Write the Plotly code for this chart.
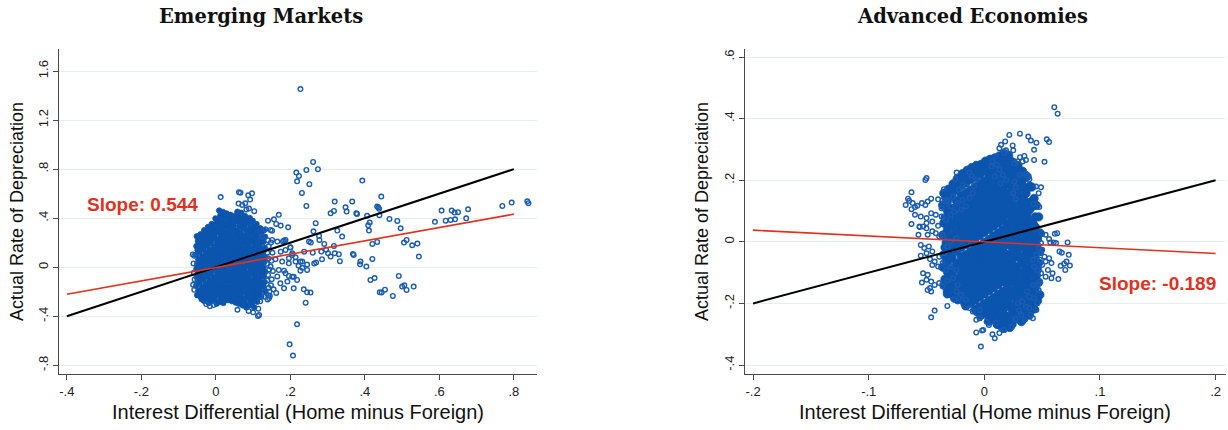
import plotly.graph_objects as go

# ---------------- Emerging Markets data ----------------
# dense central cloud (overlapping markers render as a solid blob)
em_core = [
(-0.051,0.252),(-0.048,0.214),(-0.052,0.172),(-0.049,0.138),(-0.053,0.101),(-0.047,0.063),(-0.050,0.027),(-0.052,-0.012),(-0.048,-0.043),(-0.051,-0.082),(-0.049,-0.113),(-0.053,-0.151),(-0.047,-0.192),(-0.050,-0.228),
(-0.041,0.268),(-0.038,0.231),(-0.042,0.196),(-0.039,0.158),(-0.043,0.127),(-0.037,0.087),(-0.040,0.052),(-0.042,0.016),(-0.038,-0.021),(-0.041,-0.054),(-0.039,-0.092),(-0.043,-0.124),(-0.037,-0.163),(-0.040,-0.198),(-0.042,-0.237),(-0.038,-0.262),
(-0.031,0.302),(-0.028,0.262),(-0.032,0.224),(-0.029,0.188),(-0.033,0.153),(-0.027,0.117),(-0.030,0.081),(-0.032,0.043),(-0.028,0.008),(-0.031,-0.028),(-0.029,-0.063),(-0.033,-0.098),(-0.027,-0.134),(-0.030,-0.171),(-0.032,-0.207),(-0.028,-0.243),(-0.031,-0.276),
(-0.021,0.328),(-0.018,0.287),(-0.022,0.251),(-0.019,0.213),(-0.023,0.178),(-0.017,0.141),(-0.020,0.104),(-0.022,0.068),(-0.018,0.031),(-0.021,-0.003),(-0.019,-0.041),(-0.023,-0.072),(-0.017,-0.109),(-0.020,-0.147),(-0.022,-0.183),(-0.018,-0.218),(-0.021,-0.257),(-0.019,-0.292),
(-0.011,0.352),(-0.008,0.312),(-0.012,0.273),(-0.009,0.234),(-0.013,0.197),(-0.007,0.158),(-0.010,0.121),(-0.012,0.087),(-0.008,0.049),(-0.011,0.016),(-0.009,-0.022),(-0.013,-0.054),(-0.007,-0.091),(-0.010,-0.128),(-0.012,-0.163),(-0.008,-0.201),(-0.011,-0.238),(-0.009,-0.272),
(-0.001,0.398),(0.002,0.361),(-0.002,0.322),(0.001,0.284),(-0.003,0.248),(0.003,0.209),(0.000,0.172),(-0.002,0.138),(0.002,0.101),(-0.001,0.063),(0.001,0.027),(-0.003,-0.009),(0.003,-0.043),(0.000,-0.081),(-0.002,-0.118),(0.002,-0.152),(-0.001,-0.189),(0.001,-0.228),(-0.003,-0.262),(0.002,-0.297),
(0.009,0.462),(0.012,0.421),(0.008,0.383),(0.011,0.342),(0.007,0.307),(0.013,0.268),(0.010,0.231),(0.008,0.193),(0.012,0.158),(0.009,0.119),(0.011,0.083),(0.007,0.047),(0.013,0.012),(0.010,-0.026),(0.008,-0.061),(0.012,-0.097),(0.009,-0.136),(0.011,-0.171),(0.007,-0.208),(0.013,-0.246),(0.010,-0.283),
(0.019,0.451),(0.022,0.412),(0.018,0.372),(0.021,0.333),(0.017,0.293),(0.023,0.258),(0.020,0.219),(0.018,0.182),(0.022,0.147),(0.019,0.108),(0.021,0.072),(0.017,0.036),(0.023,-0.002),(0.020,-0.037),(0.018,-0.072),(0.022,-0.109),(0.019,-0.148),(0.021,-0.183),(0.017,-0.221),(0.023,-0.257),(0.020,-0.292),
(0.029,0.438),(0.032,0.397),(0.028,0.358),(0.031,0.321),(0.027,0.282),(0.033,0.246),(0.030,0.207),(0.028,0.171),(0.032,0.133),(0.029,0.097),(0.031,0.058),(0.027,0.021),(0.033,-0.013),(0.030,-0.051),(0.028,-0.087),(0.032,-0.122),(0.029,-0.161),(0.031,-0.197),(0.027,-0.233),(0.033,-0.268),
(0.039,0.427),(0.042,0.388),(0.038,0.349),(0.041,0.311),(0.037,0.272),(0.043,0.236),(0.040,0.197),(0.038,0.161),(0.042,0.122),(0.039,0.087),(0.041,0.048),(0.037,0.012),(0.043,-0.024),(0.040,-0.061),(0.038,-0.098),(0.042,-0.131),(0.039,-0.171),(0.041,-0.207),(0.037,-0.242),(0.043,-0.276),
(0.049,0.418),(0.052,0.379),(0.048,0.341),(0.051,0.302),(0.047,0.263),(0.053,0.224),(0.050,0.188),(0.048,0.149),(0.052,0.112),(0.049,0.077),(0.051,0.038),(0.047,0.002),(0.053,-0.033),(0.050,-0.071),(0.048,-0.108),(0.052,-0.142),(0.049,-0.181),(0.051,-0.219),(0.047,-0.251),(0.053,-0.288),
(0.058,0.452),(0.062,0.412),(0.059,0.373),(0.063,0.332),(0.057,0.293),(0.060,0.254),(0.062,0.213),(0.058,0.178),(0.061,0.141),(0.059,0.102),(0.063,0.068),(0.057,0.029),(0.060,-0.008),(0.062,-0.043),(0.058,-0.081),(0.061,-0.118),(0.059,-0.152),(0.063,-0.191),(0.057,-0.227),(0.060,-0.262),(0.062,-0.298),
(0.068,0.443),(0.072,0.402),(0.069,0.363),(0.073,0.322),(0.067,0.284),(0.070,0.243),(0.072,0.204),(0.068,0.168),(0.071,0.131),(0.069,0.092),(0.073,0.058),(0.067,0.019),(0.070,-0.018),(0.072,-0.053),(0.068,-0.091),(0.071,-0.128),(0.069,-0.163),(0.073,-0.201),(0.067,-0.238),(0.070,-0.272),(0.072,-0.311),
(0.078,0.418),(0.081,0.378),(0.077,0.338),(0.083,0.298),(0.080,0.261),(0.078,0.228),(0.082,0.189),(0.079,0.151),(0.081,0.117),(0.077,0.078),(0.083,0.041),(0.080,0.006),(0.078,-0.031),(0.082,-0.068),(0.079,-0.104),(0.081,-0.141),(0.077,-0.178),(0.083,-0.213),(0.080,-0.251),(0.078,-0.288),(0.082,-0.328),
(0.091,0.401),(0.088,0.362),(0.092,0.321),(0.089,0.282),(0.087,0.243),(0.091,0.208),(0.088,0.171),(0.092,0.133),(0.089,0.097),(0.091,0.061),(0.087,0.022),(0.093,-0.013),(0.090,-0.051),(0.088,-0.088),(0.092,-0.123),(0.089,-0.161),(0.091,-0.198),(0.087,-0.232),(0.093,-0.271),(0.090,-0.309),
(0.099,0.378),(0.102,0.338),(0.098,0.302),(0.101,0.262),(0.097,0.223),(0.103,0.188),(0.100,0.151),(0.098,0.112),(0.102,0.078),(0.099,0.041),(0.101,0.003),(0.097,-0.033),(0.103,-0.071),(0.100,-0.108),(0.098,-0.142),(0.102,-0.181),(0.099,-0.218),(0.101,-0.252),(0.097,-0.291),(0.103,-0.328),
(0.109,0.352),(0.112,0.311),(0.108,0.272),(0.111,0.233),(0.107,0.198),(0.113,0.161),(0.110,0.121),(0.108,0.087),(0.112,0.048),(0.109,0.012),(0.111,-0.023),(0.107,-0.061),(0.113,-0.098),(0.110,-0.133),(0.108,-0.171),(0.112,-0.208),(0.109,-0.243),(0.111,-0.281),
(0.119,0.318),(0.122,0.281),(0.118,0.243),(0.121,0.202),(0.117,0.168),(0.123,0.131),(0.120,0.092),(0.118,0.058),(0.122,0.021),(0.119,-0.018),(0.121,-0.053),(0.117,-0.091),(0.123,-0.127),(0.120,-0.162),(0.118,-0.201),(0.122,-0.238),
(0.129,0.301),(0.132,0.248),(0.128,0.207),(0.131,0.158),(0.127,0.121),(0.133,0.081),(0.130,0.042),(0.128,0.003),(0.132,-0.038),(0.129,-0.078),(0.131,-0.121),(0.127,-0.158),(0.133,-0.198),
]

# sparser points around and outside the cloud
em_outliers = [
(-0.062,0.104),(-0.058,0.093),(-0.060,0.031),(-0.059,-0.046),(-0.057,-0.101),(-0.061,-0.143),(-0.058,-0.184),
(-0.026,-0.301),(-0.016,-0.318),(-0.006,-0.309),(0.058,-0.347),(0.088,-0.357),(0.100,-0.368),(0.114,-0.338),(0.116,-0.389),(0.113,-0.397),
(0.013,0.572),(0.062,0.611),(0.066,0.607),(0.061,0.519),(0.071,0.508),(0.079,0.521),(0.082,0.471),(0.087,0.587),(0.092,0.552),(0.089,0.478),(0.097,0.603),(0.103,0.457),
(0.139,0.221),(0.142,0.171),(0.138,0.118),(0.141,0.072),(0.137,0.028),(0.143,-0.018),(0.140,-0.063),(0.138,-0.108),(0.142,-0.168),(0.144,-0.198),(0.141,-0.228),(0.143,-0.252),(0.139,-0.263),(0.130,-0.241),(0.119,-0.278),
(0.151,0.298),(0.148,0.202),(0.152,0.118),(0.149,0.052),(0.153,-0.031),(0.150,-0.098),(0.148,-0.148),
(0.227,1.453),(0.261,0.859),(0.243,0.794),(0.274,0.800),(0.216,0.772),(0.223,0.745),(0.218,0.701),(0.251,0.677),(0.231,0.606),(0.243,0.500),(0.393,0.707),
(0.444,0.576),(0.433,0.495),(0.436,0.487),(0.438,0.476),(0.439,0.424),(0.466,0.394),(0.487,0.378),(0.496,0.318),(0.505,0.201),(0.512,0.223),(0.527,0.179),(0.541,0.193),(0.545,0.087),
(0.415,-0.104),(0.426,-0.088),(0.440,-0.205),(0.445,-0.207),(0.454,-0.183),(0.475,-0.234),(0.491,-0.071),(0.500,-0.158),(0.506,-0.147),(0.512,-0.185),(0.531,-0.158),
(0.588,0.370),(0.606,0.462),(0.617,0.380),(0.630,0.386),(0.633,0.462),(0.641,0.446),(0.650,0.449),(0.642,0.391),(0.672,0.399),(0.677,0.473),(0.769,0.500),(0.794,0.527),(0.836,0.538),(0.839,0.522),
(0.301,0.114),(0.308,0.087),(0.317,0.174),(0.319,0.114),(0.330,0.106),(0.333,0.049),(0.339,0.250),(0.326,0.299),(0.308,0.440),(0.317,0.459),(0.319,0.536),(0.348,0.489),(0.351,0.454),(0.366,0.536),(0.377,0.440),(0.379,0.435),(0.406,0.419),(0.409,0.342),(0.413,0.364),(0.411,0.299),(0.420,0.190),(0.420,0.068),(0.433,0.206),(0.388,0.046),(0.387,0.024),(0.404,0.005),(0.368,0.108),(0.370,0.100),
(0.262,0.293),(0.268,0.359),(0.277,0.255),(0.278,0.223),(0.291,0.190),(0.260,0.119),(0.237,0.127),(0.269,0.038),(0.245,-0.022),(0.250,0.209),(0.255,0.201),(0.194,0.326),(0.174,0.340),(0.169,0.427),(0.180,0.209),(0.187,0.223),(0.200,0.160),(0.205,0.114),(0.227,0.046),(0.214,0.046),(0.196,0.032),(0.178,0.046),(0.187,-0.050),(0.205,-0.077),(0.218,-0.104),(0.173,-0.131),(0.183,-0.172),(0.209,-0.172),(0.192,-0.117),(0.236,-0.180),(0.245,-0.205),(0.254,-0.207),(0.241,-0.289),
(0.218,-0.465),(0.198,-0.629),(0.207,-0.721),
(0.140,0.380),(0.156,0.391),(0.162,0.353),(0.133,0.310),(0.147,0.304),(0.124,0.250),(0.151,0.223),(0.165,0.209),(0.183,0.217),(0.187,0.141),(0.200,0.163),(0.205,0.100),(0.214,0.081),(0.174,0.127),(0.160,0.065),(0.147,0.005),(0.169,-0.022),(0.183,-0.028),(0.196,-0.071),(0.209,-0.077),(0.227,-0.028),(0.245,0.022),(0.232,0.046),
(0.264,0.030),(0.285,0.066),(0.232,-0.005),(0.222,0.012),(0.196,0.073),(0.165,-0.075),(0.155,-0.180),(0.162,-0.210),(0.145,-0.235),(0.283,0.128),(0.296,0.142),
]

em_diag_x = [-0.4, 0.8]
em_diag_y = [-0.4, 0.8]
em_fit_x = [-0.4, 0.8]
em_fit_y = [-0.220, 0.433]
em_xticks = [-0.4, -0.2, 0, 0.2, 0.4, 0.6, 0.8]
em_xlabels = ["-.4", "-.2", "0", ".2", ".4", ".6", ".8"]
em_yticks = [-0.8, -0.4, 0, 0.4, 0.8, 1.2, 1.6]
em_ylabels = ["-.8", "-.4", "0", ".4", ".8", "1.2", "1.6"]

# ---------------- Advanced Economies data ----------------
ae_core = [
(-0.035,0.158),(-0.033,0.141),(-0.036,0.119),(-0.032,0.102),(-0.034,0.078),(-0.035,0.061),(-0.032,0.039),(-0.036,0.022),(-0.033,-0.003),(-0.034,-0.018),(-0.035,-0.041),(-0.033,-0.059),(-0.036,-0.082),(-0.032,-0.097),(-0.034,-0.121),(-0.035,-0.139),(-0.032,-0.158),
(-0.031,0.171),(-0.029,0.149),(-0.032,0.131),(-0.028,0.108),(-0.030,0.092),(-0.031,0.069),(-0.028,0.052),(-0.032,0.028),(-0.029,0.011),(-0.030,-0.012),(-0.031,-0.029),(-0.029,-0.051),(-0.032,-0.068),(-0.028,-0.091),(-0.030,-0.108),(-0.031,-0.131),(-0.028,-0.148),(-0.032,-0.169),
(-0.027,0.188),(-0.025,0.172),(-0.028,0.148),(-0.024,0.132),(-0.026,0.109),(-0.027,0.091),(-0.024,0.068),(-0.028,0.052),(-0.025,0.029),(-0.026,0.012),(-0.027,-0.011),(-0.025,-0.028),(-0.028,-0.052),(-0.024,-0.069),(-0.026,-0.088),(-0.027,-0.112),(-0.024,-0.129),(-0.028,-0.151),(-0.025,-0.168),(-0.026,-0.182),
(-0.023,0.207),(-0.021,0.189),(-0.024,0.168),(-0.020,0.151),(-0.022,0.128),(-0.023,0.112),(-0.020,0.089),(-0.024,0.071),(-0.021,0.048),(-0.022,0.032),(-0.023,0.009),(-0.021,-0.008),(-0.024,-0.031),(-0.020,-0.048),(-0.022,-0.072),(-0.023,-0.089),(-0.020,-0.108),(-0.024,-0.131),(-0.021,-0.149),(-0.022,-0.171),(-0.023,-0.188),
(-0.019,0.221),(-0.017,0.198),(-0.020,0.182),(-0.016,0.158),(-0.018,0.141),(-0.019,0.118),(-0.016,0.102),(-0.020,0.079),(-0.017,0.061),(-0.018,0.038),(-0.019,0.022),(-0.017,-0.001),(-0.020,-0.018),(-0.016,-0.042),(-0.018,-0.058),(-0.019,-0.081),(-0.016,-0.098),(-0.020,-0.122),(-0.017,-0.139),(-0.018,-0.161),(-0.019,-0.178),(-0.017,-0.199),
(-0.015,0.232),(-0.013,0.209),(-0.016,0.191),(-0.012,0.168),(-0.014,0.152),(-0.015,0.129),(-0.012,0.111),(-0.016,0.088),(-0.013,0.072),(-0.014,0.049),(-0.015,0.031),(-0.013,0.008),(-0.016,-0.009),(-0.012,-0.032),(-0.014,-0.049),(-0.015,-0.071),(-0.012,-0.089),(-0.016,-0.112),(-0.013,-0.128),(-0.014,-0.151),(-0.015,-0.169),(-0.013,-0.191),(-0.016,-0.208),
(-0.011,0.241),(-0.009,0.219),(-0.012,0.202),(-0.008,0.178),(-0.010,0.161),(-0.011,0.138),(-0.008,0.122),(-0.012,0.099),(-0.009,0.081),(-0.010,0.058),(-0.011,0.041),(-0.009,0.018),(-0.012,0.001),(-0.008,-0.022),(-0.010,-0.039),(-0.011,-0.062),(-0.008,-0.079),(-0.012,-0.101),(-0.009,-0.119),(-0.010,-0.141),(-0.011,-0.158),(-0.009,-0.181),(-0.012,-0.199),(-0.008,-0.219),
(-0.007,0.248),(-0.005,0.229),(-0.008,0.211),(-0.004,0.189),(-0.006,0.171),(-0.007,0.148),(-0.004,0.131),(-0.008,0.109),(-0.005,0.091),(-0.006,0.068),(-0.007,0.051),(-0.005,0.029),(-0.008,0.011),(-0.004,-0.012),(-0.006,-0.029),(-0.007,-0.052),(-0.004,-0.069),(-0.008,-0.091),(-0.005,-0.109),(-0.006,-0.131),(-0.007,-0.149),(-0.005,-0.171),(-0.008,-0.189),(-0.004,-0.211),(-0.006,-0.228),
(-0.003,0.251),(-0.001,0.238),(-0.004,0.219),(0.000,0.198),(-0.002,0.181),(-0.003,0.159),(0.000,0.141),(-0.004,0.118),(-0.001,0.101),(-0.002,0.079),(-0.003,0.061),(-0.001,0.038),(-0.004,0.021),(0.000,-0.002),(-0.002,-0.019),(-0.003,-0.041),(0.000,-0.059),(-0.004,-0.081),(-0.001,-0.099),(-0.002,-0.121),(-0.003,-0.139),(-0.001,-0.161),(-0.004,-0.179),(0.000,-0.201),(-0.002,-0.219),(-0.003,-0.238),
(0.001,0.262),(0.003,0.241),(0.000,0.229),(0.004,0.208),(0.002,0.189),(0.001,0.168),(0.004,0.151),(0.000,0.129),(0.003,0.111),(0.002,0.088),(0.001,0.071),(0.003,0.049),(0.000,0.031),(0.004,0.008),(0.002,-0.009),(0.001,-0.031),(0.004,-0.049),(0.000,-0.072),(0.003,-0.089),(0.002,-0.111),(0.001,-0.129),(0.003,-0.151),(0.000,-0.169),(0.004,-0.191),(0.002,-0.209),(0.001,-0.229),(0.004,-0.248),
(0.005,0.268),(0.007,0.249),(0.004,0.231),(0.008,0.218),(0.006,0.198),(0.005,0.178),(0.008,0.161),(0.004,0.139),(0.007,0.121),(0.006,0.099),(0.005,0.081),(0.007,0.058),(0.004,0.041),(0.008,0.019),(0.006,0.001),(0.005,-0.021),(0.008,-0.039),(0.004,-0.061),(0.007,-0.079),(0.006,-0.101),(0.005,-0.119),(0.007,-0.141),(0.004,-0.159),(0.008,-0.181),(0.006,-0.199),(0.005,-0.221),(0.008,-0.239),(0.004,-0.258),
(0.009,0.272),(0.011,0.258),(0.008,0.239),(0.012,0.221),(0.010,0.208),(0.009,0.188),(0.012,0.171),(0.008,0.148),(0.011,0.131),(0.010,0.109),(0.009,0.091),(0.011,0.068),(0.008,0.051),(0.012,0.029),(0.010,0.011),(0.009,-0.011),(0.012,-0.029),(0.008,-0.051),(0.011,-0.069),(0.010,-0.091),(0.009,-0.109),(0.011,-0.131),(0.008,-0.149),(0.012,-0.171),(0.010,-0.189),(0.009,-0.211),(0.012,-0.229),(0.008,-0.251),(0.011,-0.268),
(0.013,0.279),(0.015,0.261),(0.012,0.249),(0.016,0.229),(0.014,0.211),(0.013,0.198),(0.016,0.178),(0.012,0.159),(0.015,0.141),(0.014,0.119),(0.013,0.101),(0.015,0.079),(0.012,0.061),(0.016,0.039),(0.014,0.021),(0.013,-0.001),(0.016,-0.019),(0.012,-0.041),(0.015,-0.059),(0.014,-0.081),(0.013,-0.099),(0.015,-0.121),(0.012,-0.139),(0.016,-0.161),(0.014,-0.179),(0.013,-0.201),(0.016,-0.219),(0.012,-0.241),(0.015,-0.259),(0.014,-0.272),
(0.017,0.288),(0.019,0.271),(0.016,0.252),(0.020,0.238),(0.018,0.219),(0.017,0.201),(0.020,0.188),(0.016,0.168),(0.019,0.149),(0.018,0.131),(0.017,0.109),(0.019,0.091),(0.016,0.069),(0.020,0.051),(0.018,0.029),(0.017,0.011),(0.020,-0.009),(0.016,-0.031),(0.019,-0.049),(0.018,-0.071),(0.017,-0.089),(0.019,-0.111),(0.016,-0.129),(0.020,-0.151),(0.018,-0.169),(0.017,-0.191),(0.020,-0.209),(0.016,-0.231),(0.019,-0.249),(0.018,-0.268),(0.017,-0.281),
(0.021,0.281),(0.023,0.262),(0.020,0.241),(0.024,0.228),(0.022,0.209),(0.021,0.191),(0.024,0.178),(0.020,0.158),(0.023,0.139),(0.022,0.121),(0.021,0.099),(0.023,0.081),(0.020,0.059),(0.024,0.041),(0.022,0.019),(0.021,0.001),(0.024,-0.019),(0.020,-0.041),(0.023,-0.059),(0.022,-0.081),(0.021,-0.099),(0.023,-0.121),(0.020,-0.139),(0.024,-0.161),(0.022,-0.179),(0.021,-0.201),(0.024,-0.219),(0.020,-0.241),(0.023,-0.259),(0.022,-0.278),
(0.025,0.258),(0.027,0.239),(0.024,0.218),(0.028,0.201),(0.026,0.188),(0.025,0.168),(0.028,0.149),(0.024,0.129),(0.027,0.111),(0.026,0.089),(0.025,0.071),(0.027,0.049),(0.024,0.031),(0.028,0.009),(0.026,-0.009),(0.025,-0.031),(0.028,-0.049),(0.024,-0.071),(0.027,-0.089),(0.026,-0.111),(0.025,-0.129),(0.027,-0.151),(0.024,-0.169),(0.028,-0.191),(0.026,-0.209),(0.025,-0.231),(0.028,-0.249),(0.024,-0.268),
(0.029,0.248),(0.031,0.231),(0.028,0.209),(0.032,0.191),(0.030,0.171),(0.029,0.151),(0.032,0.138),(0.028,0.119),(0.031,0.101),(0.030,0.079),(0.029,0.061),(0.031,0.039),(0.028,0.021),(0.032,-0.001),(0.030,-0.019),(0.029,-0.041),(0.032,-0.059),(0.028,-0.081),(0.031,-0.099),(0.030,-0.121),(0.029,-0.139),(0.031,-0.161),(0.028,-0.179),(0.032,-0.201),(0.030,-0.219),(0.029,-0.241),(0.032,-0.259),
(0.033,0.229),(0.035,0.208),(0.032,0.188),(0.036,0.168),(0.034,0.141),(0.033,0.121),(0.036,0.109),(0.032,0.089),(0.035,0.071),(0.034,0.049),(0.033,0.031),(0.035,0.009),(0.032,-0.009),(0.036,-0.031),(0.034,-0.049),(0.033,-0.071),(0.036,-0.089),(0.032,-0.111),(0.035,-0.129),(0.034,-0.151),(0.033,-0.169),(0.035,-0.191),(0.032,-0.209),(0.036,-0.231),(0.034,-0.249),
(0.037,0.212),(0.039,0.181),(0.036,0.158),(0.040,0.129),(0.038,0.099),(0.037,0.078),(0.040,0.059),(0.036,0.041),(0.039,0.019),(0.038,0.001),(0.037,-0.019),(0.039,-0.041),(0.036,-0.059),(0.040,-0.081),(0.038,-0.099),(0.037,-0.121),(0.040,-0.139),(0.036,-0.161),(0.039,-0.179),(0.038,-0.201),(0.037,-0.219),(0.039,-0.238),
(0.041,0.178),(0.043,0.141),(0.040,0.109),(0.044,0.081),(0.042,0.061),(0.041,0.039),(0.044,0.021),(0.040,-0.001),(0.043,-0.021),(0.042,-0.039),(0.041,-0.061),(0.043,-0.079),(0.040,-0.101),(0.044,-0.119),(0.042,-0.141),(0.041,-0.159),(0.044,-0.181),(0.040,-0.199),(0.043,-0.218),
(0.045,0.118),(0.047,0.081),(0.044,0.049),(0.048,0.029),(0.046,0.011),(0.045,-0.009),(0.048,-0.029),(0.044,-0.051),(0.047,-0.069),(0.046,-0.091),(0.045,-0.109),(0.047,-0.131),(0.044,-0.151),(0.048,-0.172),(0.046,-0.191),
]

ae_outliers = [
(-0.050,0.207),(-0.051,0.201),(-0.063,0.161),(-0.066,0.140),(-0.068,0.120),(-0.062,0.126),(-0.065,0.133),(-0.060,0.113),(-0.063,0.106),(-0.058,0.117),(-0.054,0.126),(-0.051,0.120),(-0.049,0.131),(-0.046,0.140),(-0.060,0.088),
(-0.040,0.138),(-0.036,0.136),(-0.033,0.131),(-0.037,0.109),(-0.035,0.171),(-0.024,0.225),(-0.025,0.203),(-0.013,0.225),(-0.011,0.214),
(-0.055,0.082),(-0.050,0.077),(-0.046,0.093),(-0.042,0.088),(-0.037,0.082),(-0.033,0.071),(-0.029,0.088),(-0.045,0.066),(-0.050,0.061),(-0.056,0.050),(-0.040,0.052),
(-0.032,0.136),(-0.027,0.147),(-0.022,0.169),(-0.019,0.185),(-0.016,0.180),(-0.029,0.115),(-0.023,0.126),(-0.019,0.136),(-0.026,0.098),(-0.020,0.104),(-0.016,0.115),(-0.013,0.142),(-0.010,0.158),(-0.009,0.180),(-0.007,0.201),
(-0.063,0.058),(-0.056,0.048),(-0.053,0.050),(-0.050,0.044),(-0.057,0.023),(-0.049,0.023),(-0.045,0.034),(-0.042,0.028),(-0.039,0.017),(-0.036,0.023),
(-0.055,-0.010),(-0.052,-0.020),(-0.048,-0.015),(-0.045,-0.031),(-0.050,-0.037),(-0.055,-0.045),(-0.047,-0.056),(-0.043,-0.064),(-0.039,-0.048),(-0.035,-0.037),(-0.032,-0.015),(-0.029,0.001),(-0.024,0.012),
(-0.045,-0.075),(-0.040,-0.080),(-0.036,-0.069),(-0.033,-0.091),(-0.029,-0.080),(-0.024,-0.091),
(-0.053,-0.102),(-0.049,-0.107),(-0.054,-0.132),(-0.050,-0.123),(-0.046,-0.129),(-0.043,-0.140),(-0.039,-0.134),(-0.036,-0.145),(-0.047,-0.150),(-0.032,-0.126),(-0.027,-0.118),(-0.023,-0.140),
(-0.049,-0.156),(-0.046,-0.161),(-0.024,-0.161),(-0.020,-0.172),(-0.022,-0.183),(-0.026,-0.188),(-0.016,-0.188),
(-0.043,-0.223),(-0.046,-0.245),(-0.032,-0.208),(-0.013,-0.215),(-0.010,-0.226),(-0.004,-0.221),(-0.004,-0.248),(-0.007,-0.253),(-0.001,-0.286),(-0.007,-0.294),(-0.003,-0.340),(0.002,-0.259),
(0.0605,0.437),(0.0634,0.416),(0.0216,0.347),(0.0308,0.351),(0.038,0.342),(0.0403,0.329),(0.045,0.322),(0.054,0.333),(0.056,0.324),(0.018,0.326),(0.0144,0.315),(0.0245,0.313),(0.025,0.297),(0.0187,0.297),(0.013,0.304),(0.0173,0.288),
(0.043,0.299),(0.043,0.266),(0.052,0.260),(0.0346,0.279),(0.0308,0.275),(0.0288,0.261),(0.0331,0.261),(0.036,0.266),(0.026,0.255),(0.0375,0.214),(0.0308,0.217),(0.036,0.221),(0.039,0.203),(0.0447,0.180),(0.049,0.177),(0.047,0.158),(0.0426,0.123),(0.0475,0.113),
(0.026,0.196),(0.027,0.177),(0.025,0.158),(0.027,0.138),(0.010,0.277),(0.007,0.261),(0.006,0.245),(0.011,0.250),(0.013,0.234),(0.016,0.217),(0.009,0.212),(0.019,0.201),(0.014,0.190),
(0.072,-0.002),(0.067,-0.035),(0.073,-0.042),(0.071,-0.064),(0.069,-0.071),(0.074,-0.077),(0.070,-0.091),(0.064,-0.121),(0.066,-0.078),(0.065,-0.031),(0.060,-0.002),(0.062,-0.004),(0.056,0.009),(0.057,-0.002),(0.053,0.023),(0.050,0.026),(0.061,0.026),(0.063,0.028),(0.049,-0.004),
(0.050,-0.026),(0.049,-0.037),(0.052,-0.048),(0.048,-0.058),(0.050,-0.075),(0.046,-0.091),(0.049,-0.102),(0.043,-0.080),(0.045,-0.042),(0.042,-0.058),(0.047,-0.021),
(0.048,-0.129),(0.047,-0.156),(0.047,-0.137),(0.042,-0.140),(0.043,-0.183),(0.046,-0.199),(0.045,-0.221),(0.040,-0.237),(0.042,-0.248),(0.035,-0.253),(0.027,-0.251),(0.024,-0.275),(0.017,-0.286),(0.013,-0.296),(0.009,-0.313),(0.007,-0.300),(0.004,-0.270),(0.010,-0.262),(-0.002,-0.288),(-0.004,-0.248),
(0.037,-0.161),(0.039,-0.178),(0.033,-0.194),(0.036,-0.210),(0.030,-0.221),(0.032,-0.237),(0.039,-0.215),(0.029,-0.199),
(0.053,-0.064),(0.056,-0.053),(0.058,-0.069),(0.055,-0.091),(0.059,-0.102),(0.053,-0.113),(0.058,-0.118),
]

ae_diag_x = [-0.2, 0.2]
ae_diag_y = [-0.2, 0.2]
ae_fit_x = [-0.2, 0.2]
ae_fit_y = [0.038, -0.038]
ae_xticks = [-0.2, -0.1, 0, 0.1, 0.2]
ae_xlabels = ["-.2", "-.1", "0", ".1", ".2"]
ae_yticks = [-0.4, -0.2, 0, 0.2, 0.4, 0.6]
ae_ylabels = ["-.4", "-.2", "0", ".2", ".4", ".6"]

# ---------------- figure ----------------
W, H = 1228, 430
BLUE = "#1a5db3"
CORE_BLUE = "#0b55ae"
RED = "#e0321e"
AXC = "#4a4a4a"
GRID = "#e4eef0"
SANS = "Liberation Sans, Arial, sans-serif"


def px(x):
    return x / W


def py(y):
    return 1 - y / H


ring = dict(symbol="circle-open", size=4.6, color=BLUE, line=dict(width=1.4, color=BLUE))
em_blob = dict(symbol="circle", size=5.6, color=CORE_BLUE, line=dict(width=0.8, color=CORE_BLUE))
ae_blob = dict(symbol="circle", size=8.4, color=CORE_BLUE, line=dict(width=0.8, color=CORE_BLUE))

fig = go.Figure()
for pts, mk, xa, ya in [(em_core, em_blob, "x", "y"), (em_outliers, ring, "x", "y"),
                        (ae_core, ae_blob, "x2", "y2"), (ae_outliers, ring, "x2", "y2")]:
    fig.add_trace(go.Scatter(x=[p[0] for p in pts], y=[p[1] for p in pts], mode="markers",
                             marker=mk, xaxis=xa, yaxis=ya, hoverinfo="skip"))
for lx, ly, col, wd, xa, ya in [(em_diag_x, em_diag_y, "black", 2, "x", "y"),
                                (em_fit_x, em_fit_y, RED, 1.6, "x", "y"),
                                (ae_diag_x, ae_diag_y, "black", 2, "x2", "y2"),
                                (ae_fit_x, ae_fit_y, RED, 1.6, "x2", "y2")]:
    fig.add_trace(go.Scatter(x=lx, y=ly, mode="lines", line=dict(color=col, width=wd),
                             xaxis=xa, yaxis=ya, hoverinfo="skip"))

ydom = [py(374), py(49)]
common_x = dict(showline=True, linecolor=AXC, linewidth=1, ticks="outside", ticklen=5, tickcolor=AXC,
                showgrid=False, zeroline=False, tickfont=dict(family=SANS, size=13, color="#222"))
common_y = dict(showline=True, linecolor=AXC, linewidth=1, ticks="outside", ticklen=5, tickcolor=AXC,
                showgrid=True, gridcolor=GRID, gridwidth=1, zeroline=False, tickangle=-90,
                tickfont=dict(family=SANS, size=13, color="#222"))

fig.update_layout(
    width=W, height=H, margin=dict(l=0, r=0, t=0, b=0),
    paper_bgcolor="white", plot_bgcolor="white", showlegend=False,
    xaxis=dict(domain=[px(59), px(537)], range=[-0.421, 0.862], tickvals=em_xticks, ticktext=em_xlabels,
               anchor="y", **common_x),
    yaxis=dict(domain=ydom, range=[-0.871, 1.78], tickvals=em_yticks, ticktext=em_ylabels,
               anchor="x", **common_y),
    xaxis2=dict(domain=[px(745), px(1226)], range=[-0.207, 0.209], tickvals=ae_xticks, ticktext=ae_xlabels,
                anchor="y2", **common_x),
    yaxis2=dict(domain=ydom, range=[-0.429, 0.626], tickvals=ae_yticks, ticktext=ae_ylabels,
                anchor="x2", **common_y),
)

TITLE_FONT = dict(family="DejaVu Serif, serif", size=19.5, color="#111")
YLAB_FONT = dict(family=SANS, size=18, color="#111")
XLAB_FONT = dict(family=SANS, size=20, color="#111")
SLOPE_FONT = dict(family=SANS, size=19, color=RED)
ann = [
    dict(text="<b>Emerging Markets</b>", x=px(261), y=py(16), font=TITLE_FONT),
    dict(text="<b>Advanced Economies</b>", x=px(972), y=py(16), font=TITLE_FONT),
    dict(text="Actual Rate of Depreciation", x=px(17), y=py(212), textangle=-90, font=YLAB_FONT),
    dict(text="Actual Rate of Depreciation", x=px(702), y=py(212), textangle=-90, font=YLAB_FONT),
    dict(text="Interest Differential (Home minus Foreign)", x=px(298), y=py(412), font=XLAB_FONT),
    dict(text="Interest Differential (Home minus Foreign)", x=px(985), y=py(412), font=XLAB_FONT),
    dict(text="<b>Slope: 0.544</b>", x=px(142), y=py(204), font=SLOPE_FONT),
    dict(text="<b>Slope: -0.189</b>", x=px(1157), y=py(283), font=SLOPE_FONT),
]
for a in ann:
    a.update(xref="paper", yref="paper", xanchor="center", yanchor="middle", showarrow=False)
fig.update_layout(annotations=ann)

# remove the browser's default 8px page margin so the figure fills the window exactly
fig.write_html("out.html", config={"displayModeBar": False},
               post_script="document.body.style.margin='0px';")
